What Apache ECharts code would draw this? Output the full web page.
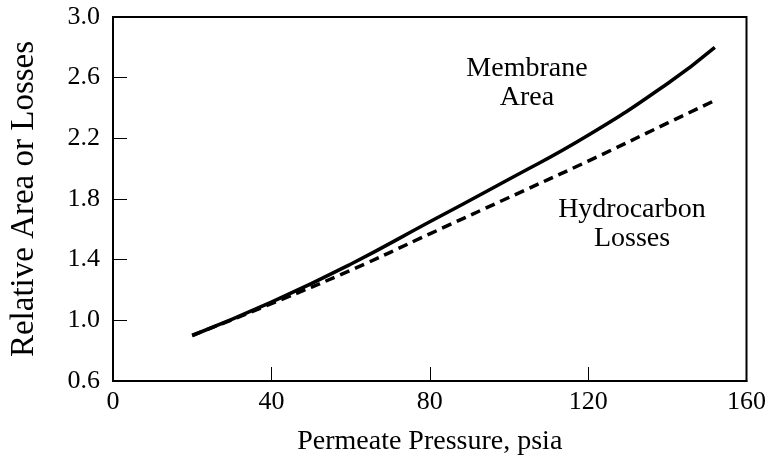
<!DOCTYPE html>
<html>
<head>
<meta charset="utf-8">
<script src="https://cdn.jsdelivr.net/npm/echarts@6/dist/echarts.min.js"></script>
<style>
html,body{margin:0;padding:0;background:#fff;}
#chart{width:769px;height:461px;}
</style>
</head>
<body>
<div id="chart"></div>
<script>
var pressure = [20, 40, 60, 80, 100, 120, 140, 152];
var membraneArea = [0.90, 1.12, 1.37, 1.65, 1.93, 2.22, 2.56, 2.80];
var hydrocarbonLosses = [0.90, 1.11, 1.33, 1.57, 1.81, 2.05, 2.30, 2.45];
var xTicks = [0, 40, 80, 120, 160];
var yTicks = [0.6, 1.0, 1.4, 1.8, 2.2, 2.6, 3.0];

function pairs(xs, ys){ return xs.map(function(x,i){ return [x, ys[i]]; }); }

var font = "'Liberation Serif', 'Times New Roman', serif";
var chart = echarts.init(document.getElementById('chart'));
chart.setOption({
  animation: false,
  backgroundColor: '#fff',
  grid: {left: 113, top: 17, right: 22, bottom: 80, show: true, borderColor: '#000', borderWidth: 2, backgroundColor: 'transparent'},
  xAxis: {
    type: 'value', min: 0, max: 160, interval: 40,
    name: 'Permeate Pressure, psia', nameLocation: 'middle', nameGap: 47,
    nameTextStyle: {fontFamily: font, fontSize: 28, color: '#000'},
    axisLine: {show: true, lineStyle: {color: '#000', width: 2}},
    axisTick: {show: true, inside: true, length: 14, lineStyle: {color: '#000', width: 1}},
    axisLabel: {fontFamily: font, fontSize: 26, color: '#000', margin: 8,
      formatter: function(v){ return xTicks.indexOf(v) >= 0 ? String(v) : ''; }},
    splitLine: {show: false}
  },
  yAxis: {
    type: 'value', min: 0.6, max: 3.0, interval: 0.4,
    name: 'Relative Area or Losses', nameLocation: 'middle', nameGap: 72,
    nameTextStyle: {fontFamily: font, fontSize: 33, color: '#000'},
    axisLine: {show: true, lineStyle: {color: '#000', width: 2}},
    axisTick: {show: true, inside: true, length: 14, lineStyle: {color: '#000', width: 1}},
    axisLabel: {fontFamily: font, fontSize: 26, color: '#000', margin: 13,
      formatter: function(v){ var s = v.toFixed(1); return yTicks.some(function(t){ return t.toFixed(1) === s; }) ? s : ''; }},
    splitLine: {show: false}
  },
  series: [
    {type: 'line', name: 'Membrane Area', data: pairs(pressure, membraneArea), smooth: true, showSymbol: false,
     lineStyle: {color: '#000', width: 3.5}},
    {type: 'line', name: 'Hydrocarbon Losses', data: pairs(pressure, hydrocarbonLosses), smooth: true, showSymbol: false,
     lineStyle: {color: '#000', width: 3.5, type: [10, 6]}}
  ],
  graphic: [
    {type: 'text', x: 527, y: 54, style: {text: 'Membrane\nArea', fontFamily: font, fontSize: 28, lineHeight: 29, fill: '#000', align: 'center', verticalAlign: 'top'}},
    {type: 'text', x: 632, y: 195, style: {text: 'Hydrocarbon\nLosses', fontFamily: font, fontSize: 28, lineHeight: 29, fill: '#000', align: 'center', verticalAlign: 'top'}}
  ]
});
</script>
</body>
</html>
